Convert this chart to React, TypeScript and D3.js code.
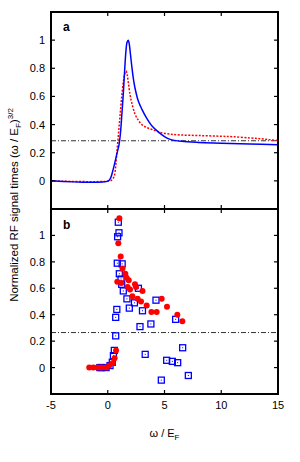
import React from 'react';
import * as d3 from 'd3';

// panel a: theory curves, [omega/EF, signal]
const blueCurve: [number, number][] = [
  [-5, 0], [0.05, 0], [0.25, 0.02], [0.49, 0.085], [0.8, 0.19], [1.0, 0.26], [1.12, 0.34],
  [1.25, 0.48], [1.37, 0.62], [1.5, 0.8], [1.6, 0.92], [1.7, 0.985], [1.8, 1.0], [1.9, 0.97],
  [2.0, 0.9], [2.11, 0.82], [2.25, 0.73], [2.4, 0.66], [2.7, 0.565], [3.0, 0.51], [3.4, 0.45],
  [3.9, 0.39], [4.5, 0.345], [5.0, 0.315], [5.5, 0.295], [6.5, 0.281], [8, 0.273], [10, 0.268],
  [12.5, 0.262], [15, 0.256],
];
const redCurve: [number, number][] = [
  [-5, 0], [0.2, 0], [0.4, 0.01], [0.55, 0.03], [0.64, 0.06], [0.78, 0.18], [0.93, 0.32],
  [1.08, 0.46], [1.23, 0.6], [1.37, 0.7], [1.5, 0.76], [1.61, 0.78], [1.72, 0.75], [1.81, 0.7],
  [1.95, 0.62], [2.1, 0.56], [2.4, 0.475], [2.7, 0.43], [3.0, 0.4], [3.4, 0.38], [3.9, 0.365],
  [4.6, 0.345], [5.5, 0.332], [6.4, 0.326], [8, 0.322], [10, 0.317], [11, 0.314], [12.5, 0.305],
  [13.4, 0.3], [14.2, 0.293], [15, 0.286],
];

// panel b: measured points
const redDots: [number, number][] = [
  [-1.63, 0], [-1.27, 0], [-0.92, 0], [-0.55, 0], [-0.15, 0], [0.14, 0.015], [0.44, 0.035],
  [0.6, 0.07], [0.73, 0.13], [1.02, 1.13], [0.93, 0.94], [1.14, 0.84], [1.3, 0.75], [0.84, 0.65],
  [1.2, 0.64], [1.55, 0.71], [1.66, 0.68], [1.85, 0.66], [1.75, 0.61], [1.96, 0.59], [2.17, 0.54],
  [2.4, 0.63], [2.49, 0.61], [2.63, 0.52], [3.06, 0.58], [2.93, 0.5], [3.43, 0.47], [3.85, 0.42],
  [4.31, 0.42], [4.75, 0.52], [5.22, 0.46], [6.13, 0.4], [6.57, 0.35],
];
const blueSquares: [number, number][] = [
  [-0.7, 0], [-0.55, 0], [-0.15, 0], [0.2, 0.015], [0.4, 0.04], [0.5, 0.09], [0.58, 0.13],
  [0.7, 0.24], [0.93, 1.1], [0.99, 1.02], [0.87, 0.99], [0.84, 0.79], [1.27, 0.785], [1.02, 0.71],
  [1.17, 0.67], [1.23, 0.63], [1.37, 0.58], [1.69, 0.52], [2.7, 0.6], [1.9, 0.45], [2.35, 0.49],
  [3.06, 0.43], [4.25, 0.51], [0.8, 0.44], [0.7, 0.38], [2.84, 0.31], [3.8, 0.33], [5.98, 0.365],
  [6.6, 0.15], [3.3, 0.1], [5.19, 0.055], [5.69, 0.047], [6.16, 0.037], [4.72, -0.095], [7.1, -0.06],
];

const refLineA = 0.285;
const refLineB = 0.265;
const xTicks = [-5, 0, 5, 10, 15];
const yTicks = [0, 0.2, 0.4, 0.6, 0.8, 1];

const font = 'Liberation Sans, Arial, sans-serif';

const App: React.FC = () => {
  const left = 51, right = 278;
  const x = d3.scaleLinear().domain([-5, 15]).range([left, right]);
  const yA = d3.scaleLinear().domain([-0.2, 1.2]).range([209, 12]);
  const yB = d3.scaleLinear().domain([-0.2, 1.2]).range([394, 209]);

  // smooth curves through the read-off points
  const lineA = d3.line<[number, number]>()
    .x(d => x(d[0]))
    .y(d => yA(d[1]))
    .curve(d3.curveCatmullRom.alpha(0.5));

  const tick = 4;

  const panelTicks = (y: d3.ScaleLinear<number, number>, key: string) => {
    const [bot, top] = y.range();
    return (
      <g key={key} stroke="#000" strokeWidth={1.2}>
        {yTicks.map(t => (
          <g key={t}>
            <line x1={left} x2={left + tick} y1={y(t)} y2={y(t)} />
            <line x1={right} x2={right - tick} y1={y(t)} y2={y(t)} />
          </g>
        ))}
        {xTicks.slice(1, -1).map(t => (
          <g key={t}>
            <line x1={x(t)} x2={x(t)} y1={bot} y2={bot - tick} />
            <line x1={x(t)} x2={x(t)} y1={top} y2={top + tick} />
          </g>
        ))}
      </g>
    );
  };

  const yLabels = (y: d3.ScaleLinear<number, number>, key: string) => (
    <g key={key} fontFamily={font} fontSize={11} textAnchor="end" fill="#000">
      {yTicks.map(t => (
        <text key={t} x={45} y={y(t) + 4}>{d3.format('~g')(t)}</text>
      ))}
    </g>
  );

  return (
    <div style={{ position: 'absolute', left: 0, top: 0 }}>
      <svg width={300} height={462} style={{ display: 'block', background: '#fff' }}>
        {/* panel a */}
        <line x1={left} x2={right} y1={yA(refLineA)} y2={yA(refLineA)}
          stroke="#333" strokeWidth={1} strokeDasharray="5,2,1,2" />
        <path d={lineA(redCurve) || ''} fill="none" stroke="#f00" strokeWidth={1.5} strokeDasharray="2,1.5" />
        <path d={lineA(blueCurve) || ''} fill="none" stroke="#00f" strokeWidth={1.5} />

        {/* panel b */}
        <line x1={left} x2={right} y1={yB(refLineB)} y2={yB(refLineB)}
          stroke="#333" strokeWidth={1} strokeDasharray="5,2,1,2" />
        {blueSquares.map((d, i) => (
          <g key={'s' + i}>
            <rect x={x(d[0]) - 3} y={yB(d[1]) - 3} width={6} height={6}
              fill="none" stroke="#00f" strokeWidth={1.3} />
            <rect x={x(d[0]) - 0.5} y={yB(d[1]) - 0.5} width={1} height={1} fill="#00f" />
          </g>
        ))}
        {redDots.map((d, i) => (
          <circle key={'c' + i} cx={x(d[0])} cy={yB(d[1])} r={3} fill="#f00" />
        ))}

        {/* frames and ticks */}
        {panelTicks(yA, 'ta')}
        {panelTicks(yB, 'tb')}
        <rect x={left} y={12} width={right - left} height={394 - 12} fill="none" stroke="#000" strokeWidth={2} />
        <line x1={left} x2={right} y1={209} y2={209} stroke="#000" strokeWidth={2} />

        {yLabels(yA, 'la')}
        {yLabels(yB, 'lb')}
        <g fontFamily={font} fontSize={11} textAnchor="middle" fill="#000">
          {xTicks.map(t => (
            <text key={t} x={x(t)} y={409}>{t}</text>
          ))}
        </g>

        <text x={63} y={31} fontFamily={font} fontSize={12} fontWeight="bold">a</text>
        <text x={63} y={229} fontFamily={font} fontSize={12} fontWeight="bold">b</text>

        <text x={(left + right) / 2} y={437} fontFamily={font} fontSize={11} textAnchor="middle">
          ω / E<tspan fontSize={8} dy={3}>F</tspan>
        </text>

        <text transform="translate(18,205) rotate(-90)" fontFamily={font} fontSize={11.5} textAnchor="middle">
          Normalized RF signal times (ω / E<tspan fontSize={8} dy={3}>F</tspan>
          <tspan dy={-3}>)</tspan><tspan fontSize={8} dy={-5}>3/2</tspan>
        </text>
      </svg>
    </div>
  );
};

export default App;
